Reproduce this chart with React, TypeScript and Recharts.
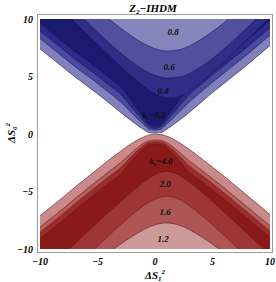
import React from 'react';
import { ComposedChart, Area, XAxis, YAxis, Scatter } from 'recharts';

const xGrid = [-10, -9, -8, -7, -6, -5, -4, -3, -2, -1, -0.5, 0, 0.5, 1, 2, 3, 4, 5, 6, 7, 8, 9, 10];

// upper (blue) contour boundaries
const blueOuter = [7.4, 6.6, 5.8, 5.0, 4.25, 3.5, 2.7, 1.9, 1.1, 0.4, 0.12, 0.08, 0.12, 0.4, 1.1, 1.9, 2.75, 3.6, 4.4, 5.2, 6.0, 6.85, 7.7];
const blueStripA = [8.3, 7.5, 6.7, 5.9, 5.15, 4.4, 3.6, 2.8, 1.8, 0.85, 0.42, 0.33, 0.42, 0.85, 1.8, 2.8, 3.65, 4.5, 5.3, 6.1, 6.9, 7.75, 8.6];
const blueStripB = [8.95, 8.15, 7.35, 6.55, 5.8, 5.05, 4.25, 3.45, 2.3, 1.15, 0.62, 0.48, 0.62, 1.15, 2.3, 3.45, 4.3, 5.15, 5.95, 6.75, 7.55, 8.4, 9.25];
const blueCore = [9.6, 8.8, 8.0, 7.2, 6.45, 5.7, 4.9, 4.1, 2.8, 1.45, 0.82, 0.68, 0.82, 1.45, 2.8, 4.1, 4.95, 5.8, 6.6, 7.4, 8.2, 9.05, 9.9];
const blueK04 = [12.8, 11.76, 10.76, 9.77, 8.78, 7.8, 6.84, 5.9, 5.0, 4.17, 3.8, 3.49, 3.26, 3.12, 3.22, 3.74, 4.49, 5.35, 6.27, 7.22, 8.19, 9.17, 10.17];
const blueK06 = [13.85, 12.82, 11.8, 10.8, 9.81, 8.85, 7.93, 7.06, 6.27, 5.59, 5.32, 5.1, 4.95, 4.86, 4.93, 5.27, 5.84, 6.57, 7.4, 8.29, 9.23, 10.2, 11.2];
const blueK08 = [15.2, 14.3, 13.4, 12.5, 11.7, 10.8, 10.0, 9.21, 8.49, 7.87, 7.62, 7.41, 7.28, 7.21, 7.3, 7.66, 8.23, 8.91, 9.67, 10.5, 11.3, 12.2, 13.1];

// lower (red) contour boundaries
const redOuter = [-7.1, -6.3, -5.5, -4.65, -3.85, -3.05, -2.25, -1.5, -0.8, -0.26, -0.08, -0.02, -0.05, -0.18, -0.68, -1.35, -2.1, -2.88, -3.68, -4.5, -5.32, -6.16, -7.0];
const redStripA = [-8.1, -7.3, -6.5, -5.65, -4.85, -4.05, -3.25, -2.5, -1.6, -0.81, -0.58, -0.52, -0.55, -0.73, -1.48, -2.35, -3.1, -3.88, -4.68, -5.5, -6.32, -7.16, -8.0];
const redStripB = [-8.55, -7.75, -6.95, -6.1, -5.3, -4.5, -3.7, -2.95, -1.9, -1.01, -0.73, -0.67, -0.7, -0.93, -1.78, -2.8, -3.55, -4.33, -5.13, -5.95, -6.77, -7.61, -8.45];
const redCore = [-9.1, -8.3, -7.5, -6.65, -5.85, -5.05, -4.25, -3.5, -2.3, -1.26, -0.93, -0.87, -0.9, -1.18, -2.18, -3.35, -4.1, -4.88, -5.68, -6.5, -7.32, -8.16, -9.0];
const redK20 = [-12.37, -11.43, -10.49, -9.56, -8.63, -7.7, -6.78, -5.88, -5.01, -4.2, -3.84, -3.54, -3.33, -3.25, -3.54, -4.2, -5.01, -5.88, -6.78, -7.7, -8.63, -9.56, -10.49];
const redK16 = [-14.6, -13.62, -12.64, -11.67, -10.7, -9.75, -8.81, -7.89, -7.03, -6.25, -5.92, -5.66, -5.48, -5.42, -5.66, -6.25, -7.03, -7.89, -8.81, -9.75, -10.7, -11.67, -12.64];
const redK12 = [-15.03, -14.22, -13.42, -12.62, -11.83, -11.06, -10.3, -9.58, -8.91, -8.32, -8.08, -7.9, -7.78, -7.74, -7.9, -8.32, -8.91, -9.58, -10.3, -11.06, -11.83, -12.62, -13.42];

const axisTicks = [-10, -5, 0, 5, 10];

const contourLabels = [
  { x: 1.57, y: 8.87, text: '0.8', k: false },
  { x: 1.22, y: 5.83, text: '0.6', k: false },
  { x: 0.7, y: 3.74, text: '0.4', k: false },
  { x: -0.09, y: 1.65, text: '0.2', k: true },
  { x: 0.52, y: -2.35, text: '4.0', k: true },
  { x: 0.87, y: -4.35, text: '2.0', k: false },
  { x: 0.87, y: -6.78, text: '1.6', k: false },
  { x: 0.7, y: -9.13, text: '1.2', k: false },
];

const CAP_TOP = 20;
const CAP_BOTTOM = -20;

const blueLayers = [
  { key: 'bOuter', values: blueOuter, fill: '#8080ba' },
  { key: 'bStripA', values: blueStripA, fill: '#4a4a9e' },
  { key: 'bStripB', values: blueStripB, fill: '#2c2c88' },
  { key: 'bCore', values: blueCore, fill: '#1a1a70' },
  { key: 'bK04', values: blueK04, fill: '#2e2e86' },
  { key: 'bK06', values: blueK06, fill: '#50509f' },
  { key: 'bK08', values: blueK08, fill: '#8686bd' },
];
const redLayers = [
  { key: 'rOuter', values: redOuter, fill: '#c88a8a' },
  { key: 'rStripA', values: redStripA, fill: '#b35f5f' },
  { key: 'rStripB', values: redStripB, fill: '#9b2c2c' },
  { key: 'rCore', values: redCore, fill: '#8a1a1a' },
  { key: 'rK20', values: redK20, fill: '#9e3636' },
  { key: 'rK16', values: redK16, fill: '#ae5656' },
  { key: 'rK12', values: redK12, fill: '#cd9a9a' },
];

const serif = 'Liberation Serif, Times New Roman, serif';
const tickStyle = { fontFamily: serif, fontWeight: 700, fontStyle: 'italic', fontSize: 10, fill: '#000' };
const fmt = (v: number) => (v < 0 ? `\u2212${Math.abs(v)}` : `${v}`);

const LabelShape = (props: any) => {
  const { cx, cy, payload } = props;
  return (
    <text x={cx} y={cy} dy="0.35em" textAnchor="middle" fontFamily={serif} fontWeight={700} fontStyle="italic" fontSize={9} fill="#111">
      {payload.k ? (
        <>
          <tspan>k</tspan>
          <tspan fontSize={6} dy={2}>s</tspan>
          <tspan dy={-2}>{'=' + payload.text}</tspan>
        </>
      ) : (
        payload.text
      )}
    </text>
  );
};

export default function App() {
  const rows = xGrid.map((x, i) => {
    const row: any = { x };
    blueLayers.forEach((l) => {
      row[l.key] = [l.values[i], CAP_TOP];
    });
    redLayers.forEach((l) => {
      row[l.key] = [CAP_BOTTOM, l.values[i]];
    });
    return row;
  });
  return (
    <div style={{ position: 'absolute', left: 0, top: 0, width: 276, height: 282, background: '#fff' }}>
      <ComposedChart width={276} height={282} data={rows} margin={{ top: 19, right: 6, bottom: 13, left: 10 }}>
        <XAxis dataKey="x" type="number" domain={[-10, 10]} ticks={axisTicks} allowDataOverflow height={20} tickSize={0} tickMargin={9} axisLine={false} tickLine={false} tick={tickStyle} tickFormatter={fmt} interval={0} />
        <YAxis type="number" domain={[-10, 10]} ticks={axisTicks} allowDataOverflow width={30} tickSize={0} tickMargin={7} axisLine={false} tickLine={false} tick={tickStyle} tickFormatter={fmt} interval={0} />
        {blueLayers.map((l) => (
          <Area key={l.key} dataKey={l.key} type="monotone" fill={l.fill} fillOpacity={1} stroke="#15155c" strokeWidth={0.6} dot={false} activeDot={false} isAnimationActive={false} />
        ))}
        {redLayers.map((l) => (
          <Area key={l.key} dataKey={l.key} type="monotone" fill={l.fill} fillOpacity={1} stroke="#701212" strokeWidth={0.6} dot={false} activeDot={false} isAnimationActive={false} />
        ))}
        <Scatter data={contourLabels} dataKey="y" shape={LabelShape} isAnimationActive={false} />
      </ComposedChart>
      <svg width={276} height={282} style={{ position: 'absolute', left: 0, top: 0, pointerEvents: 'none' }}>
        <rect x={37.5} y={14.5} width={235} height={238} fill="none" stroke="#9a9a9a" strokeWidth={1} />
        <text x={153} y={12} textAnchor="middle" fontFamily={serif} fontWeight={700} fontStyle="italic" fontSize={11} fill="#000">
          Z<tspan fontSize={7} dy={2}>2</tspan>
          <tspan dy={-2}>{'\u2212IHDM'}</tspan>
        </text>
        <text x={155} y={279} textAnchor="middle" fontFamily={serif} fontWeight={700} fontStyle="italic" fontSize={11} fill="#000">
          ΔS<tspan fontSize={7} dy={2}>1</tspan>
          <tspan fontSize={7} dy={-7}>2</tspan>
        </text>
        <text transform="translate(15,133) rotate(-90)" textAnchor="middle" fontFamily={serif} fontWeight={700} fontStyle="italic" fontSize={11} fill="#000">
          ΔS<tspan fontSize={7} dy={2}>0</tspan>
          <tspan fontSize={7} dy={-7}>2</tspan>
        </text>
      </svg>
    </div>
  );
}
